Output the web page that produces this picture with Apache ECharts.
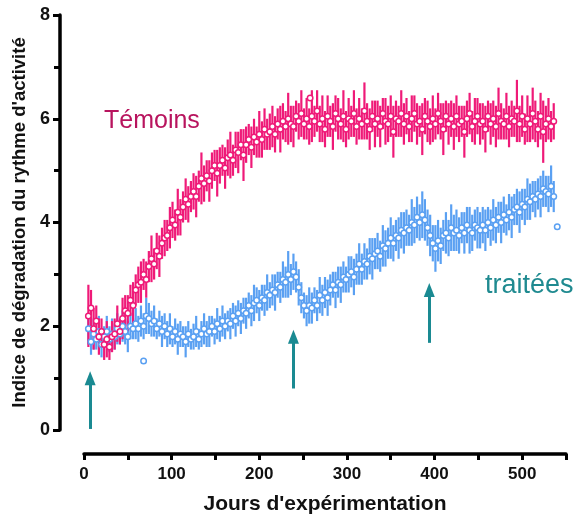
<!DOCTYPE html>
<html>
<head>
<meta charset="utf-8">
<script src="https://cdn.jsdelivr.net/npm/echarts@6/dist/echarts.min.js"></script>
<style>
  html, body { margin: 0; padding: 0; background: #fff; }
  #chart { width: 577px; height: 520px; }
</style>
</head>
<body>
<div id="chart"></div>
<script>
// jours de mesure (tous les 3 jours)
var days = [5, 8, 11, 14, 17, 20, 23, 26, 29, 32,
  35, 38, 41, 44, 47, 50, 53, 56, 59, 62,
  65, 68, 71, 74, 77, 80, 83, 86, 89, 92,
  95, 98, 101, 104, 107, 110, 113, 116, 119, 122,
  125, 128, 131, 134, 137, 140, 143, 146, 149, 152,
  155, 158, 161, 164, 167, 170, 173, 176, 179, 182,
  185, 188, 191, 194, 197, 200, 203, 206, 209, 212,
  215, 218, 221, 224, 227, 230, 233, 236, 239, 242,
  245, 248, 251, 254, 257, 260, 263, 266, 269, 272,
  275, 278, 281, 284, 287, 290, 293, 296, 299, 302,
  305, 308, 311, 314, 317, 320, 323, 326, 329, 332,
  335, 338, 341, 344, 347, 350, 353, 356, 359, 362,
  365, 368, 371, 374, 377, 380, 383, 386, 389, 392,
  395, 398, 401, 404, 407, 410, 413, 416, 419, 422,
  425, 428, 431, 434, 437, 440, 443, 446, 449, 452,
  455, 458, 461, 464, 467, 470, 473, 476, 479, 482,
  485, 488, 491, 494, 497, 500, 503, 506, 509, 512,
  515, 518, 521, 524, 527, 530, 533, 536];

// Témoins
var temoins = [2.2, 2.35, 1.95, 2.1, 1.8, 1.9, 1.65, 1.75, 1.6, 1.8,
  1.85, 2.05, 1.9, 2.15, 2.3, 2.25, 2.5, 2.4, 2.7, 2.8,
  2.85, 3.0, 2.9, 3.15, 3.3, 3.2, 3.45, 3.35, 3.6, 3.7,
  3.75, 3.9, 4.05, 3.95, 4.2, 4.1, 4.3, 4.45, 4.35, 4.5,
  4.6, 4.5, 4.7, 4.85, 4.75, 4.9, 4.8, 5.0, 5.1, 4.95,
  5.1, 5.2, 5.05, 5.25, 5.3, 5.2, 5.4, 5.35, 5.5, 5.3,
  5.5, 5.6, 5.45, 5.65, 5.55, 5.7, 5.6, 5.8, 5.7, 5.75,
  5.85, 5.7, 5.9, 5.8, 5.95, 5.85, 6.0, 5.9, 5.85, 6.05,
  5.95, 6.1, 5.9, 6.0, 5.85, 6.05, 5.95, 6.15, 5.9, 6.0,
  5.8, 6.05, 5.95, 5.85, 6.1, 6.0, 5.9, 6.05, 5.8, 6.0,
  5.95, 6.1, 5.85, 6.0, 5.9, 6.15, 5.95, 5.8, 6.05, 5.9,
  6.0, 5.85, 6.1, 5.95, 5.9, 6.05, 5.75, 6.0, 5.95, 6.1,
  5.9, 6.05, 5.85, 6.0, 6.1, 5.9, 5.95, 5.8, 6.05, 5.95,
  5.85, 6.0, 5.9, 6.1, 5.95, 5.8, 6.05, 5.9, 6.0, 5.85,
  6.05, 5.9, 5.95, 5.75, 6.0, 6.1, 5.85, 5.95, 6.05, 5.9,
  5.95, 5.8, 6.05, 5.9, 6.0, 5.85, 6.1, 5.95, 5.9, 6.05,
  5.85, 6.0, 5.95, 6.15, 5.9, 6.05, 5.8, 6.0, 5.9, 6.1,
  5.95, 5.8, 6.05, 5.75, 5.9, 6.0, 5.85, 5.95];
var temoinsErr = [0.6, 0.35, 0.4, 0.3, 0.35, 0.25, 0.3, 0.35, 0.25, 0.3,
  0.3, 0.35, 0.25, 0.4, 0.3, 0.35, 0.3, 0.45, 0.3, 0.35,
  0.4, 0.3, 0.35, 0.3, 0.45, 0.3, 0.35, 0.4, 0.3, 0.35,
  0.3, 0.4, 0.35, 0.3, 0.45, 0.35, 0.3, 0.4, 0.35, 0.3,
  0.35, 0.4, 0.3, 0.5, 0.35, 0.3, 0.4, 0.35, 0.3, 0.45,
  0.35, 0.3, 0.4, 0.35, 0.45, 0.3, 0.35, 0.4, 0.3, 0.5,
  0.35, 0.3, 0.4, 0.35, 0.3, 0.45, 0.35, 0.4, 0.3, 0.35,
  0.4, 0.35, 0.3, 0.45, 0.35, 0.3, 0.5, 0.35, 0.4, 0.3,
  0.35, 0.45, 0.3, 0.4, 0.35, 0.5, 0.3, 0.4, 0.35, 0.45,
  0.35, 0.4, 0.3, 0.45, 0.35, 0.4, 0.3, 0.5, 0.35, 0.4,
  0.3, 0.45, 0.35, 0.4, 0.3, 0.55, 0.35, 0.4, 0.3, 0.45,
  0.35, 0.4, 0.3, 0.45, 0.35, 0.4, 0.5, 0.35, 0.3, 0.45,
  0.4, 0.35, 0.3, 0.45, 0.35, 0.4, 0.3, 0.5, 0.35, 0.4,
  0.35, 0.45, 0.3, 0.4, 0.35, 0.5, 0.3, 0.4, 0.35, 0.45,
  0.4, 0.35, 0.3, 0.5, 0.35, 0.4, 0.3, 0.45, 0.35, 0.4,
  0.35, 0.45, 0.3, 0.4, 0.35, 0.4, 0.5, 0.35, 0.3, 0.45,
  0.4, 0.35, 0.3, 0.6, 0.35, 0.4, 0.3, 0.45, 0.35, 0.5,
  0.4, 0.35, 0.45, 0.6, 0.35, 0.4, 0.3, 0.35];

// traitées
var traitees = [1.95, 1.7, 1.85, 1.75, 1.9, 1.65, 1.8, 1.9, 1.75, 1.85,
  1.8, 1.95, 1.85, 2.0, 1.9, 1.8, 2.0, 1.95, 2.05, 1.95,
  2.1, 2.0, 2.2, 2.15, 2.05, 2.1, 1.95, 2.05, 1.9, 2.0,
  1.85, 1.95, 1.8, 1.9, 1.75, 1.85, 1.8, 1.7, 1.85, 1.75,
  1.8, 1.9, 1.75, 1.85, 1.95, 1.85, 1.9, 2.0, 1.9, 2.05,
  1.95, 2.1, 2.0, 2.1, 2.05, 2.2, 2.1, 2.25, 2.15, 2.3,
  2.25, 2.4, 2.3, 2.45, 2.5, 2.4, 2.55, 2.5, 2.65, 2.6,
  2.7, 2.65, 2.8, 2.75, 2.9, 2.85, 3.0, 2.9, 3.05, 2.95,
  2.75, 2.55, 2.4, 2.3, 2.4, 2.35, 2.5, 2.4, 2.6, 2.5,
  2.65, 2.55, 2.7, 2.8, 2.7, 2.85, 2.8, 2.95, 2.9, 3.0,
  3.05, 2.95, 3.1, 3.2, 3.1, 3.25, 3.2, 3.35, 3.3, 3.4,
  3.45, 3.35, 3.55, 3.5, 3.6, 3.7, 3.6, 3.75, 3.7, 3.85,
  3.8, 3.9, 3.85, 4.0, 3.95, 4.1, 4.0, 4.15, 4.05, 3.9,
  3.75, 3.6, 3.5, 3.65, 3.55, 3.75, 3.8, 3.7, 3.9, 3.8,
  3.85, 3.75, 3.9, 3.8, 3.95, 3.85, 3.8, 3.95, 3.9, 3.85,
  3.95, 3.85, 4.0, 3.9, 4.05, 3.95, 4.1, 4.0, 4.15, 4.05,
  4.2, 4.1, 4.25, 4.3, 4.2, 4.35, 4.3, 4.45, 4.4, 4.5,
  4.45, 4.55, 4.5, 4.65, 4.6, 4.55, 4.7, 4.5];
var traiteesErr = [0.3, 0.25, 0.3, 0.2, 0.3, 0.25, 0.2, 0.3, 0.25, 0.3,
  0.25, 0.3, 0.2, 0.3, 0.25, 0.3, 0.25, 0.2, 0.3, 0.25,
  0.3, 0.25, 0.35, 0.3, 0.25, 0.3, 0.2, 0.25, 0.3, 0.25,
  0.25, 0.3, 0.2, 0.25, 0.3, 0.25, 0.2, 0.3, 0.25, 0.2,
  0.25, 0.3, 0.2, 0.25, 0.3, 0.25, 0.3, 0.2, 0.25, 0.3,
  0.25, 0.3, 0.25, 0.2, 0.3, 0.25, 0.3, 0.25, 0.3, 0.25,
  0.3, 0.25, 0.3, 0.35, 0.25, 0.3, 0.25, 0.3, 0.35, 0.25,
  0.3, 0.35, 0.25, 0.3, 0.35, 0.3, 0.45, 0.3, 0.35, 0.3,
  0.35, 0.3, 0.25, 0.3, 0.35, 0.3, 0.25, 0.3, 0.35, 0.3,
  0.3, 0.35, 0.3, 0.25, 0.35, 0.3, 0.35, 0.3, 0.25, 0.35,
  0.3, 0.35, 0.3, 0.4, 0.3, 0.35, 0.3, 0.35, 0.4, 0.3,
  0.35, 0.3, 0.4, 0.35, 0.3, 0.4, 0.35, 0.3, 0.4, 0.35,
  0.4, 0.35, 0.3, 0.45, 0.35, 0.4, 0.35, 0.45, 0.4, 0.35,
  0.4, 0.35, 0.45, 0.4, 0.35, 0.3, 0.4, 0.35, 0.45, 0.35,
  0.4, 0.35, 0.3, 0.4, 0.35, 0.45, 0.35, 0.3, 0.4, 0.35,
  0.35, 0.4, 0.3, 0.35, 0.4, 0.35, 0.3, 0.4, 0.35, 0.3,
  0.35, 0.4, 0.3, 0.35, 0.4, 0.3, 0.35, 0.4, 0.35, 0.3,
  0.35, 0.3, 0.4, 0.35, 0.3, 0.35, 0.4, 0.3];

// points isolés
var temoinsExtra = [[258, 6.4]];
var traiteesExtra = [[68, 1.33], [540, 3.92]];

// flèches (jour, bas, pointe)
var arrowDays = [7, 239, 394];
var arrowLow = [0.02, 0.8, 1.68];
var arrowHigh = [1.0, 1.8, 2.7];

var pink = '#ef1a78';
var blue = '#5aa0f2';
var teal = '#1a8a92';

function points(vals, err) {
  var out = [];
  for (var i = 0; i < vals.length; i++) {
    out.push([days[i], vals[i], err[i]]);
  }
  return out;
}

function errorBars(name, data, color) {
  return {
    name: name,
    type: 'custom',
    data: data,
    renderItem: function (params, api) {
      var x = api.value(0), y = api.value(1), e = api.value(2);
      var lo = api.coord([x, y - e]);
      var hi = api.coord([x, y + e]);
      return {
        type: 'line',
        shape: { x1: lo[0], y1: lo[1], x2: hi[0], y2: hi[1] },
        style: { stroke: color, lineWidth: 2.2 }
      };
    },
    encode: { x: 0, y: 1 },
    silent: true
  };
}

function circles(name, data, color) {
  return {
    name: name,
    type: 'scatter',
    data: data,
    symbol: 'circle',
    symbolSize: 5.5,
    itemStyle: { color: '#fff', borderColor: color, borderWidth: 1.5, opacity: 1 },
    silent: true
  };
}

var arrowLines = [];
for (var i = 0; i < arrowDays.length; i++) {
  arrowLines.push([
    { coord: [arrowDays[i], arrowLow[i]], symbol: 'none' },
    { coord: [arrowDays[i], arrowHigh[i]], symbol: 'triangle', symbolSize: [11, 14] }
  ]);
}

var pinkPts = points(temoins, temoinsErr);
var bluePts = points(traitees, traiteesErr);

var chart = echarts.init(document.getElementById('chart'));
chart.setOption({
  animation: false,
  grid: { left: 84, right: 11, top: 15, bottom: 90 },
  xAxis: {
    type: 'value',
    min: 0,
    max: 550,
    interval: 50,
    offset: 24,
    name: "Jours d'expérimentation",
    nameLocation: 'middle',
    nameGap: 40,
    nameTextStyle: { fontFamily: 'Liberation Sans', fontWeight: 'bold', fontSize: 21, color: '#111' },
    axisLine: { onZero: false, lineStyle: { color: '#000', width: 3.5 } },
    axisTick: { length: 6, lineStyle: { color: '#000', width: 3 } },
    axisLabel: {
      margin: 12,
      fontFamily: 'Liberation Sans', fontWeight: 'bold', fontSize: 17, color: '#111',
      formatter: function (v) { return v % 100 === 0 ? v : ''; }
    },
    splitLine: { show: false }
  },
  yAxis: {
    type: 'value',
    min: 0,
    max: 8,
    interval: 2,
    offset: 24,
    name: "Indice de dégradation du rythme d'activité",
    nameLocation: 'middle',
    nameGap: 31,
    nameTextStyle: { fontFamily: 'Liberation Sans', fontWeight: 'bold', fontSize: 18.5, color: '#111' },
    axisLine: { show: true, onZero: false, lineStyle: { color: '#000', width: 3.5 } },
    axisTick: { show: true, length: 7, lineStyle: { color: '#000', width: 3 } },
    minorTick: { show: true, splitNumber: 2, length: 6, lineStyle: { color: '#000', width: 3 } },
    axisLabel: { margin: 10, fontFamily: 'Liberation Sans', fontWeight: 'bold', fontSize: 18, color: '#111' },
    splitLine: { show: false }
  },
  series: [
    errorBars('traitées err', bluePts, blue),
    Object.assign(circles('traitées', bluePts, blue), {
      markLine: {
        silent: true,
        label: { show: false },
        lineStyle: { color: teal, width: 3, type: 'solid' },
        data: arrowLines
      }
    }),
    circles('traitées iso', traiteesExtra, blue),
    errorBars('Témoins err', pinkPts, pink),
    circles('Témoins', pinkPts, pink),
    circles('Témoins iso', temoinsExtra, pink)
  ],
  graphic: [
    {
      type: 'text', left: 104, top: 109,
      style: { text: 'Témoins', fontFamily: 'Liberation Sans', fontSize: 25, fill: '#b8145e' }
    },
    {
      type: 'text', left: 485, top: 272,
      style: { text: 'traitées', fontFamily: 'Liberation Sans', fontSize: 27, fill: '#1f8a90' }
    }
  ]
});
</script>
</body>
</html>
